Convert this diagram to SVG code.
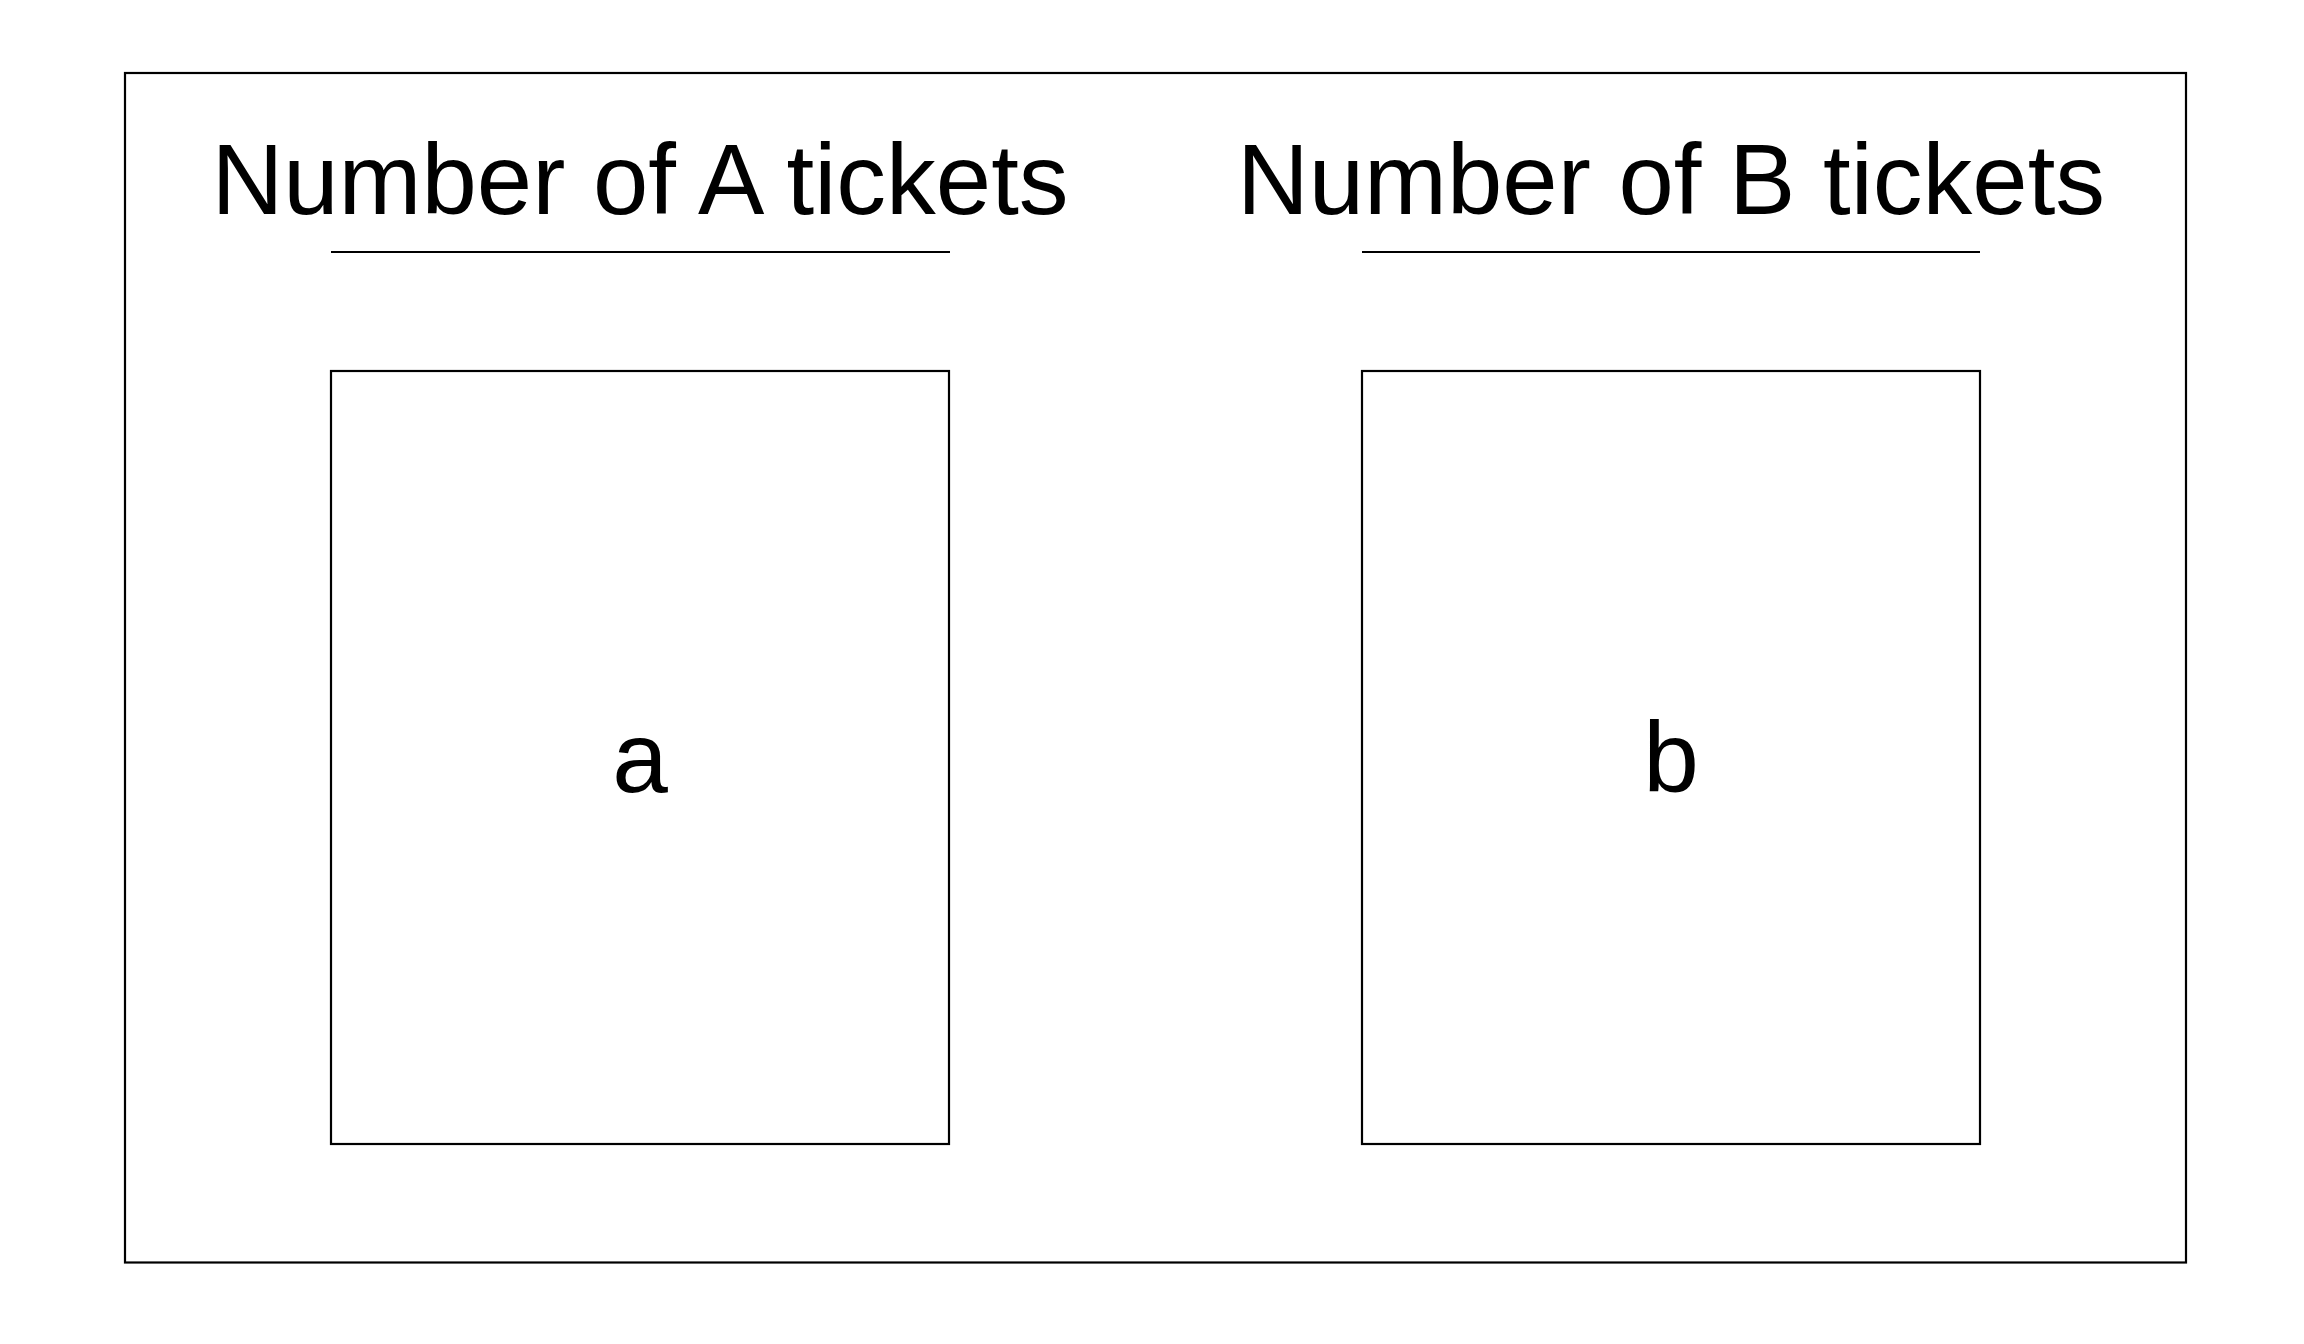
<svg xmlns="http://www.w3.org/2000/svg" width="2304" height="1344" viewBox="0 0 2304 1344">
<style>
.box{fill:#fff;stroke:#000;stroke-width:2.2}
.ln{stroke:#000;stroke-width:2.2}
.t{font-family:"Liberation Sans",Arial,sans-serif;font-size:99.5px;fill:#000;text-anchor:middle}
.v{font-family:"Liberation Sans",Arial,sans-serif;font-size:100px;fill:#000;text-anchor:middle}
</style>
<rect width="2304" height="1344" fill="#fff"/>
<g id="frame"><rect class="box" x="125" y="73" width="2061" height="1189.5"/></g>
<g id="nodeA">
<text class="t" x="640" y="214">Number of A tickets</text>
<line class="ln" x1="331" y1="252" x2="950" y2="252"/>
<rect class="box" x="331" y="371" width="618" height="773"/>
<text class="v" x="640" y="792">a</text>
</g>
<g id="nodeB">
<text class="t" x="1671" y="214">Number of B tickets</text>
<line class="ln" x1="1362" y1="252" x2="1980" y2="252"/>
<rect class="box" x="1362" y="371" width="618" height="773"/>
<text class="v" x="1671" y="792">b</text>
</g>
<g id="connectors"></g>
</svg>
